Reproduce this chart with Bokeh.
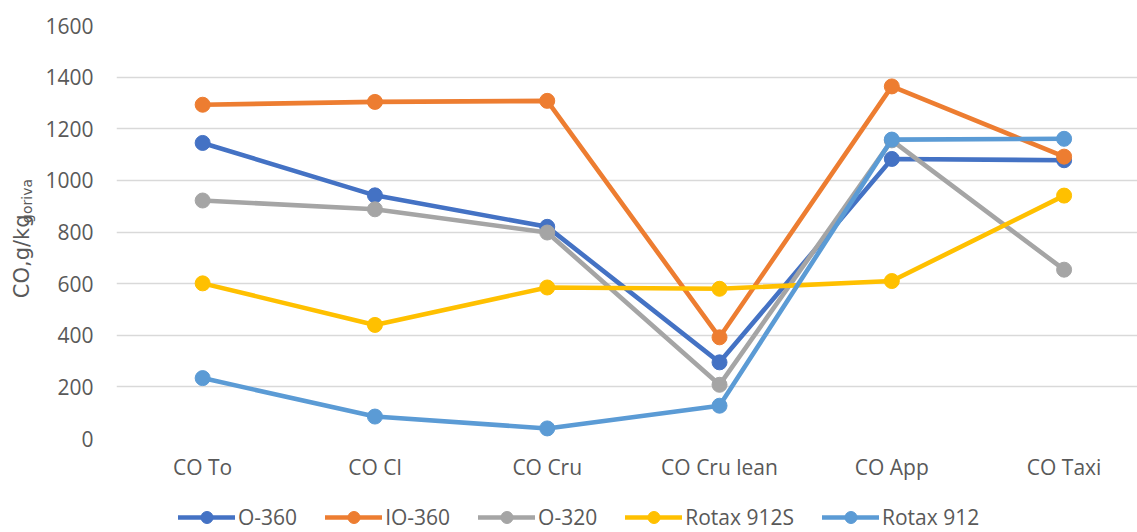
from bokeh.plotting import figure
from bokeh.models import (Range1d, FixedTicker, Legend, LegendItem, Label,
                          ColumnDataSource)
from bokeh.layouts import row, column
from bokeh.embed import file_html
from bokeh.resources import INLINE
import math

categories = ["CO To", "CO Cl", "CO Cru", "CO Cru lean", "CO App", "CO Taxi"]
series_names = ["O-360", "IO-360", "O-320", "Rotax 912S", "Rotax 912"]
o360 = [1145, 942, 820, 295, 1083, 1078]
io360 = [1293, 1304, 1308, 392, 1364, 1092]
o320 = [922, 888, 798, 208, 1155, 654]
rotax912s = [601, 440, 585, 580, 610, 941]
rotax912 = [234, 85, 39, 127, 1158, 1161]
y_ticks = [0, 200, 400, 600, 800, 1000, 1200, 1400, 1600]
colors = ["#4472C4", "#ED7D31", "#A5A5A5", "#FFC000", "#5B9BD5"]

all_series = [o360, io360, o320, rotax912s, rotax912]
xs = list(range(len(categories)))

FONT = "Open Sans"
LABEL_FONT = "DejaVu Sans"
TXT = "#595959"
W = 1137
W_LAB = 42
H_MAIN = 492
H_LEG = 40


def bare(fig):
    fig.outline_line_color = None
    fig.grid.visible = False
    return fig


# narrow figure holding the y-axis title (with subscript)
lab = bare(figure(width=W_LAB, height=H_MAIN, output_backend="svg",
                  toolbar_location=None, x_range=Range1d(0, W_LAB),
                  y_range=Range1d(0, H_MAIN), min_border=0,
                  x_axis_location=None, y_axis_location=None))
lab.add_layout(Label(x=21, y=H_MAIN - 275, text="CO,g/kg", angle=math.pi / 2,
                     text_font=LABEL_FONT, text_font_size="21px",
                     text_color=TXT, text_align="center",
                     text_baseline="middle"))
lab.add_layout(Label(x=26, y=H_MAIN - 209, text="goriva", angle=math.pi / 2,
                     text_font=LABEL_FONT, text_font_size="14px",
                     text_color=TXT, text_align="center",
                     text_baseline="middle"))

# main chart
p = figure(width=W - W_LAB, height=H_MAIN, output_backend="svg",
           toolbar_location=None,
           x_range=Range1d(-0.5, 5.426), y_range=Range1d(0, 1600),
           min_border_left=116 - W_LAB, min_border_right=0, min_border_top=25,
           min_border_bottom=H_MAIN - 25 - 413)
p.outline_line_color = None

p.xaxis.ticker = FixedTicker(ticks=xs)
p.xaxis.major_label_overrides = {i: c for i, c in enumerate(categories)}
p.yaxis.ticker = FixedTicker(ticks=y_ticks)
for ax in (p.xaxis, p.yaxis):
    ax.axis_line_color = None
    ax.major_tick_line_color = None
    ax.minor_tick_line_color = None
    ax.major_tick_out = 0
    ax.major_tick_in = 0
    ax.minor_tick_out = 0
    ax.major_label_text_font = FONT
    ax.major_label_text_font_size = "21px"
    ax.major_label_text_color = TXT
p.yaxis.major_label_standoff = 23
p.xaxis.major_label_standoff = 14

p.xgrid.grid_line_color = None
p.ygrid.grid_line_color = "#D9D9D9"
p.ygrid.grid_line_width = 1.5

sources = []
for name, vals, col in zip(series_names, all_series, colors):
    src = ColumnDataSource(dict(x=xs, y=vals))
    sources.append(src)
    p.line("x", "y", source=src, line_color=col, line_width=4.6,
           line_join="round", line_cap="round")
    p.scatter("x", "y", source=src, size=15, fill_color=col,
              line_color=col, line_width=1)

# legend strip: its own figure, same series and styles; its ranges keep the
# series data out of view so only the legend entries show
leg = bare(figure(width=W, height=H_LEG, output_backend="svg",
                  toolbar_location=None, x_range=Range1d(100, 101),
                  y_range=Range1d(-2, -1), min_border=0,
                  x_axis_location=None, y_axis_location=None))
items = []
for name, src, col in zip(series_names, sources, colors):
    l = leg.line("x", "y", source=src, line_color=col, line_width=4.6,
                 line_cap="round")
    s = leg.scatter("x", "y", source=src, size=15, fill_color=col,
                    line_color=col)
    items.append(LegendItem(label=name, renderers=[l, s]))
legend = Legend(items=items, orientation="horizontal", location=(178, 0),
                glyph_width=57, glyph_height=30, label_standoff=3, spacing=28,
                padding=0, margin=0, border_line_color=None,
                background_fill_alpha=0, label_text_font=FONT,
                label_text_font_size="21px", label_text_color=TXT)
leg.add_layout(legend, "center")

layout = column(row(lab, p, spacing=0), leg, spacing=0)
open("out.html", "w").write(file_html(layout, INLINE))
